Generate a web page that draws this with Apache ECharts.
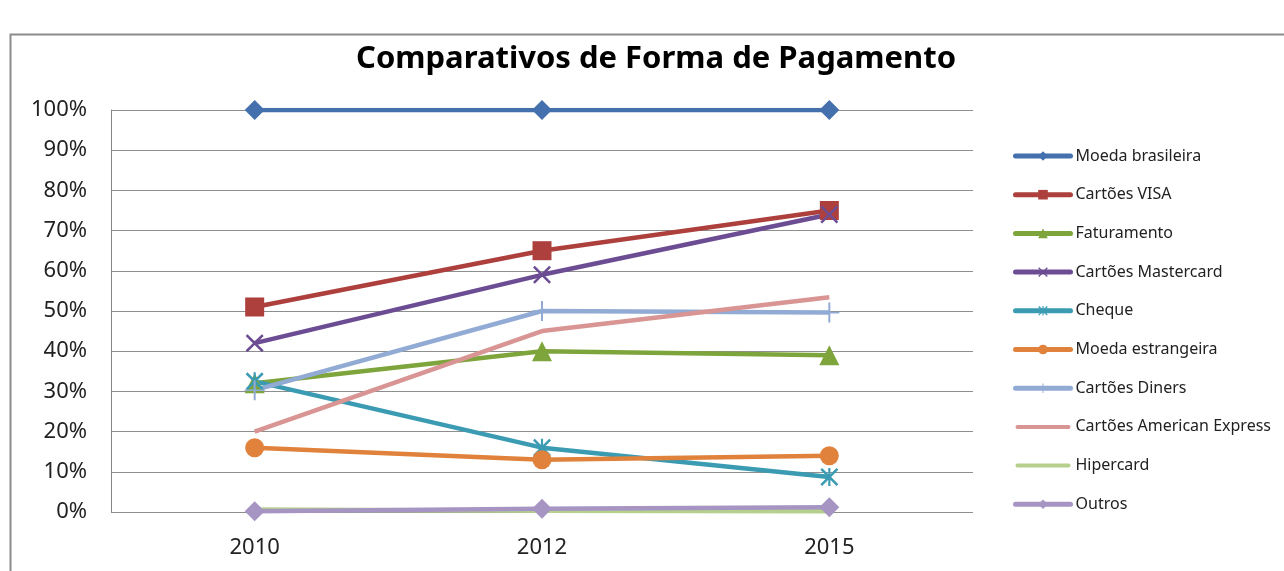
<!DOCTYPE html>
<html>
<head>
<meta charset="utf-8">
<title>Comparativos de Forma de Pagamento</title>
<script src="https://cdn.jsdelivr.net/npm/echarts@6/dist/echarts.min.js"></script>
<style>
    html, body { margin: 0; padding: 0; background: #fff; }
    #chart { width: 1284px; height: 571px; }
</style>
</head>
<body>
<div id="chart"></div>
<script>
// anos no eixo X
var anos = ['2010', '2012', '2015'];

// valores em %
var moedaBrasileira = [100, 100, 100];
var cartoesVisa = [51, 65, 75];
var faturamento = [32, 40, 39];
var cartoesMastercard = [42, 59, 74];
var cheque = [32.5, 16, 8.7];
var moedaEstrangeira = [16, 13, 14];
var cartoesDiners = [30.3, 50, 49.6];
var cartoesAmex = [20, 45, 53.4];
var hipercard = [0.6, 0.3, 0.2];
var outros = [0.2, 0.8, 1.2];

var FONT = '"Noto Sans", "Open Sans", sans-serif';

// marcadores estilo Excel
var symX = 'path://M0,1 L1,0 L5,4 L9,0 L10,1 L6,5 L10,9 L9,10 L5,6 L1,10 L0,9 L4,5 Z';
var symStar = 'path://M0,1 L1,0 L5,4 L9,0 L10,1 L6,5 L10,9 L9,10 L5,6 L1,10 L0,9 L4,5 Z M4.4,0 L5.6,0 L5.6,10 L4.4,10 Z';
var symPlus = 'path://M4.5,0 L5.5,0 L5.5,4.6 L10,4.6 L10,5.4 L5.5,5.4 L5.5,10 L4.5,10 L4.5,5.4 L0,5.4 L0,4.6 L4.5,4.6 Z';
// só a linha, sem marcador (legenda)
var iconLinha = 'path://M2,0 L53,0 A2,2 0 0 1 53,4 L2,4 A2,2 0 0 1 2,0 Z';

function serie(nome, dados, cor, simbolo, tamanho) {
    return {
        name: nome,
        type: 'line',
        data: dados,
        symbol: simbolo,
        symbolSize: tamanho,
        showAllSymbol: true,
        lineStyle: { color: cor, width: 4.5 },
        itemStyle: { color: cor },
        emphasis: { disabled: true },
        animation: false
    };
}

var chart = echarts.init(document.getElementById('chart'));

var option = {
    backgroundColor: '#fff',
    animation: false,
    title: {
        text: 'Comparativos de Forma de Pagamento',
        left: 651,
        top: 39,
        textAlign: 'center',
        textStyle: { fontFamily: FONT, fontSize: 31, fontWeight: 'bold', color: '#000' }
    },
    graphic: [
        {
            type: 'rect',
            shape: { x: 10.5, y: 34.5, width: 1300, height: 600 },
            style: { fill: 'none', stroke: '#8c8c8c', lineWidth: 2 },
            silent: true
        }
    ],
    legend: {
        orient: 'vertical',
        left: 1008,
        top: 143,
        itemWidth: 55,
        itemHeight: 12,
        itemGap: 22.7,
        lineStyle: { width: 5, cap: 'round' },
        textStyle: { fontFamily: FONT, fontSize: 16, color: '#222' },
        data: [
            'Moeda brasileira', 'Cartões VISA', 'Faturamento', 'Cartões Mastercard', 'Cheque',
            'Moeda estrangeira', 'Cartões Diners',
            { name: 'Cartões American Express', icon: iconLinha },
            { name: 'Hipercard', icon: iconLinha },
            'Outros'
        ],
        selectedMode: false
    },
    grid: {
        left: 111,
        right: 311,
        top: 110,
        bottom: 59
    },
    xAxis: {
        type: 'category',
        data: anos,
        boundaryGap: true,
        axisLine: { show: false },
        axisTick: { show: false },
        axisLabel: { fontFamily: FONT, fontSize: 22, color: '#222', margin: 25 }
    },
    yAxis: {
        type: 'value',
        min: 0,
        max: 100,
        interval: 10,
        axisLine: { show: true, lineStyle: { color: '#868686', width: 1 } },
        axisTick: { show: false },
        splitLine: { lineStyle: { color: '#8e8e8e', width: 1 } },
        axisLabel: {
            fontFamily: FONT, fontSize: 22, color: '#222', margin: 24,
            formatter: function (v) { return v + '%'; }
        }
    },
    series: [
        serie('Moeda brasileira', moedaBrasileira, '#4470ad', 'diamond', 20),
        serie('Cartões VISA', cartoesVisa, '#ad403d', 'rect', 19),
        serie('Faturamento', faturamento, '#7ea43c', 'triangle', 20),
        serie('Cartões Mastercard', cartoesMastercard, '#6c4d93', symX, 18),
        serie('Cheque', cheque, '#3a9bb2', symStar, 18),
        serie('Moeda estrangeira', moedaEstrangeira, '#e0823b', 'circle', 19),
        serie('Cartões Diners', cartoesDiners, '#91abd4', symPlus, 20),
        serie('Cartões American Express', cartoesAmex, '#d99593', 'none', 0),
        serie('Hipercard', hipercard, '#b5cf8d', 'none', 0),
        serie('Outros', outros, '#a695c2', 'diamond', 20)
    ]
};

chart.setOption(option);
</script>
</body>
</html>
